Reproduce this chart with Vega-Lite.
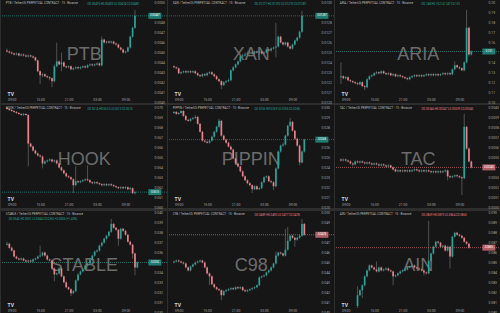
{
"$schema":"https://vega.github.io/schema/vega-lite/v6.json",
"padding":0,
"background":"#2e2e2e",
"config":{"view":{"fill":"#161616","stroke":null},"axis":{"domain":false,"ticks":false,"grid":false,"labelColor":"#a3a3a3","labelFontSize":3.4,"labelFont":"Roboto"},"axisX":{"labelPadding":0},"axisY":{"labelPadding":1},"title":{"anchor":"start","fontSize":3,"fontWeight":"normal","color":"#bdbdbd","offset":-5,"dx":5,"font":"Roboto"},"text":{"font":"Roboto"}},
"datasets":{
"PTB":[{"t":8,"o":0.00452,"h":0.00454,"l":0.00450,"c":0.00451},{"t":8.5,"o":0.00451,"h":0.00452,"l":0.00449,"c":0.00450},{"t":9,"o":0.00450,"h":0.00451,"l":0.00448,"c":0.00449},{"t":9.5,"o":0.00449,"h":0.00450,"l":0.00447,"c":0.00448},{"t":10,"o":0.00448,"h":0.00450,"l":0.00447,"c":0.00449},{"t":10.5,"o":0.00449,"h":0.00450,"l":0.00446,"c":0.00447},{"t":11,"o":0.00447,"h":0.00449,"l":0.00446,"c":0.00448},{"t":11.5,"o":0.00448,"h":0.00449,"l":0.00446,"c":0.00447},{"t":12,"o":0.00447,"h":0.00448,"l":0.00445,"c":0.00446},{"t":12.5,"o":0.00446,"h":0.00448,"l":0.00445,"c":0.00447},{"t":13,"o":0.00447,"h":0.00448,"l":0.00445,"c":0.00446},{"t":13.5,"o":0.00446,"h":0.00447,"l":0.00444,"c":0.00445},{"t":14,"o":0.00445,"h":0.00446,"l":0.00441,"c":0.00442},{"t":14.5,"o":0.00442,"h":0.00443,"l":0.00430,"c":0.00431},{"t":15,"o":0.00431,"h":0.00432,"l":0.00418,"c":0.00427},{"t":15.5,"o":0.00427,"h":0.00429,"l":0.00425,"c":0.00428},{"t":16,"o":0.00428,"h":0.00429,"l":0.00425,"c":0.00426},{"t":16.5,"o":0.00426,"h":0.00427,"l":0.00424,"c":0.00425},{"t":17,"o":0.00425,"h":0.00426,"l":0.00422,"c":0.00424},{"t":17.5,"o":0.00424,"h":0.00425,"l":0.00415,"c":0.00421},{"t":18,"o":0.00421,"h":0.00438,"l":0.00420,"c":0.00436},{"t":18.5,"o":0.00436,"h":0.00460,"l":0.00435,"c":0.00441},{"t":19,"o":0.00441,"h":0.00442,"l":0.00437,"c":0.00438},{"t":19.5,"o":0.00438,"h":0.00450,"l":0.00431,"c":0.00440},{"t":20,"o":0.00440,"h":0.00441,"l":0.00435,"c":0.00436},{"t":20.5,"o":0.00436,"h":0.00437,"l":0.00434,"c":0.00435},{"t":21,"o":0.00435,"h":0.00437,"l":0.00434,"c":0.00436},{"t":21.5,"o":0.00436,"h":0.00437,"l":0.00432,"c":0.00433},{"t":22,"o":0.00433,"h":0.00435,"l":0.00432,"c":0.00434},{"t":22.5,"o":0.00434,"h":0.00436,"l":0.00433,"c":0.00435},{"t":23,"o":0.00435,"h":0.00436,"l":0.00433,"c":0.00434},{"t":23.5,"o":0.00434,"h":0.00436,"l":0.00433,"c":0.00435},{"t":24,"o":0.00435,"h":0.00437,"l":0.00434,"c":0.00436},{"t":24.5,"o":0.00436,"h":0.00437,"l":0.00434,"c":0.00435},{"t":25,"o":0.00435,"h":0.00438,"l":0.00434,"c":0.00437},{"t":25.5,"o":0.00437,"h":0.00439,"l":0.00436,"c":0.00438},{"t":26,"o":0.00438,"h":0.00439,"l":0.00436,"c":0.00437},{"t":26.5,"o":0.00437,"h":0.00439,"l":0.00436,"c":0.00438},{"t":27,"o":0.00438,"h":0.00440,"l":0.00437,"c":0.00439},{"t":27.5,"o":0.00439,"h":0.00440,"l":0.00436,"c":0.00437},{"t":28,"o":0.00437,"h":0.00466,"l":0.00436,"c":0.00463},{"t":28.5,"o":0.00463,"h":0.00464,"l":0.00459,"c":0.00460},{"t":29,"o":0.00460,"h":0.00462,"l":0.00459,"c":0.00461},{"t":29.5,"o":0.00461,"h":0.00462,"l":0.00459,"c":0.00460},{"t":30,"o":0.00460,"h":0.00462,"l":0.00459,"c":0.00461},{"t":30.5,"o":0.00461,"h":0.00462,"l":0.00458,"c":0.00459},{"t":31,"o":0.00459,"h":0.00460,"l":0.00457,"c":0.00458},{"t":31.5,"o":0.00458,"h":0.00459,"l":0.00454,"c":0.00455},{"t":32,"o":0.00455,"h":0.00456,"l":0.00452,"c":0.00453},{"t":32.5,"o":0.00453,"h":0.00454,"l":0.00449,"c":0.00450},{"t":33,"o":0.00450,"h":0.00452,"l":0.00449,"c":0.00451},{"t":33.5,"o":0.00451,"h":0.00456,"l":0.00450,"c":0.00455},{"t":34,"o":0.00455,"h":0.00467,"l":0.00454,"c":0.00466},{"t":34.5,"o":0.00466,"h":0.00476,"l":0.00465,"c":0.00475},{"t":35,"o":0.00475,"h":0.00493,"l":0.00474,"c":0.00487}],
"XAN":[{"t":8,"o":0.01236,"h":0.01237,"l":0.01234,"c":0.01235},{"t":8.5,"o":0.01235,"h":0.01236,"l":0.01233,"c":0.01234},{"t":9,"o":0.01234,"h":0.01235,"l":0.01228,"c":0.01229},{"t":9.5,"o":0.01229,"h":0.01231,"l":0.01228,"c":0.01230},{"t":10,"o":0.01230,"h":0.01232,"l":0.01229,"c":0.01231},{"t":10.5,"o":0.01231,"h":0.01232,"l":0.01229,"c":0.01230},{"t":11,"o":0.01230,"h":0.01232,"l":0.01229,"c":0.01231},{"t":11.5,"o":0.01231,"h":0.01232,"l":0.01229,"c":0.01230},{"t":12,"o":0.01230,"h":0.01232,"l":0.01229,"c":0.01231},{"t":12.5,"o":0.01231,"h":0.01232,"l":0.01228,"c":0.01229},{"t":13,"o":0.01229,"h":0.01230,"l":0.01226,"c":0.01227},{"t":13.5,"o":0.01227,"h":0.01228,"l":0.01225,"c":0.01226},{"t":14,"o":0.01226,"h":0.01229,"l":0.01225,"c":0.01228},{"t":14.5,"o":0.01228,"h":0.01229,"l":0.01226,"c":0.01227},{"t":15,"o":0.01227,"h":0.01230,"l":0.01226,"c":0.01229},{"t":15.5,"o":0.01229,"h":0.01231,"l":0.01228,"c":0.01230},{"t":16,"o":0.01230,"h":0.01231,"l":0.01227,"c":0.01228},{"t":16.5,"o":0.01228,"h":0.01229,"l":0.01225,"c":0.01226},{"t":17,"o":0.01226,"h":0.01227,"l":0.01222,"c":0.01223},{"t":17.5,"o":0.01223,"h":0.01224,"l":0.01220,"c":0.01221},{"t":18,"o":0.01221,"h":0.01222,"l":0.01213,"c":0.01217},{"t":18.5,"o":0.01217,"h":0.01221,"l":0.01216,"c":0.01220},{"t":19,"o":0.01220,"h":0.01222,"l":0.01219,"c":0.01221},{"t":19.5,"o":0.01221,"h":0.01224,"l":0.01220,"c":0.01222},{"t":20,"o":0.01222,"h":0.01233,"l":0.01221,"c":0.01232},{"t":20.5,"o":0.01232,"h":0.01236,"l":0.01231,"c":0.01235},{"t":21,"o":0.01235,"h":0.01239,"l":0.01234,"c":0.01238},{"t":21.5,"o":0.01238,"h":0.01242,"l":0.01237,"c":0.01241},{"t":22,"o":0.01241,"h":0.01247,"l":0.01240,"c":0.01246},{"t":22.5,"o":0.01246,"h":0.01249,"l":0.01245,"c":0.01247},{"t":23,"o":0.01247,"h":0.01250,"l":0.01246,"c":0.01248},{"t":23.5,"o":0.01248,"h":0.01251,"l":0.01247,"c":0.01249},{"t":24,"o":0.01249,"h":0.01252,"l":0.01248,"c":0.01250},{"t":24.5,"o":0.01250,"h":0.01251,"l":0.01248,"c":0.01249},{"t":25,"o":0.01249,"h":0.01252,"l":0.01248,"c":0.01251},{"t":25.5,"o":0.01251,"h":0.01252,"l":0.01249,"c":0.01250},{"t":26,"o":0.01250,"h":0.01252,"l":0.01249,"c":0.01251},{"t":26.5,"o":0.01251,"h":0.01252,"l":0.01248,"c":0.01249},{"t":27,"o":0.01249,"h":0.01251,"l":0.01248,"c":0.01250},{"t":27.5,"o":0.01250,"h":0.01254,"l":0.01249,"c":0.01253},{"t":28,"o":0.01253,"h":0.01254,"l":0.01251,"c":0.01252},{"t":28.5,"o":0.01252,"h":0.01255,"l":0.01251,"c":0.01254},{"t":29,"o":0.01254,"h":0.01256,"l":0.01253,"c":0.01255},{"t":29.5,"o":0.01255,"h":0.01280,"l":0.01245,"c":0.01256},{"t":30,"o":0.01256,"h":0.01267,"l":0.01255,"c":0.01266},{"t":30.5,"o":0.01266,"h":0.01267,"l":0.01259,"c":0.01260},{"t":31,"o":0.01260,"h":0.01261,"l":0.01257,"c":0.01258},{"t":31.5,"o":0.01258,"h":0.01261,"l":0.01257,"c":0.01260},{"t":32,"o":0.01260,"h":0.01261,"l":0.01255,"c":0.01256},{"t":32.5,"o":0.01256,"h":0.01257,"l":0.01253,"c":0.01254},{"t":33,"o":0.01254,"h":0.01259,"l":0.01253,"c":0.01258},{"t":33.5,"o":0.01258,"h":0.01263,"l":0.01257,"c":0.01262},{"t":34,"o":0.01262,"h":0.01266,"l":0.01261,"c":0.01265},{"t":34.5,"o":0.01265,"h":0.01272,"l":0.01264,"c":0.01271},{"t":35,"o":0.01271,"h":0.01292,"l":0.01270,"c":0.01287}],
"ARIA":[{"t":8,"o":0.125,"h":0.140,"l":0.118,"c":0.126},{"t":8.5,"o":0.126,"h":0.127,"l":0.123,"c":0.124},{"t":9,"o":0.124,"h":0.126,"l":0.123,"c":0.125},{"t":9.5,"o":0.125,"h":0.126,"l":0.121,"c":0.122},{"t":10,"o":0.122,"h":0.123,"l":0.120,"c":0.121},{"t":10.5,"o":0.121,"h":0.122,"l":0.119,"c":0.120},{"t":11,"o":0.120,"h":0.121,"l":0.118,"c":0.119},{"t":11.5,"o":0.119,"h":0.120,"l":0.117,"c":0.118},{"t":12,"o":0.118,"h":0.121,"l":0.117,"c":0.120},{"t":12.5,"o":0.120,"h":0.121,"l":0.115,"c":0.116},{"t":13,"o":0.116,"h":0.117,"l":0.112,"c":0.115},{"t":13.5,"o":0.115,"h":0.124,"l":0.114,"c":0.123},{"t":14,"o":0.123,"h":0.127,"l":0.122,"c":0.126},{"t":14.5,"o":0.126,"h":0.128,"l":0.125,"c":0.127},{"t":15,"o":0.127,"h":0.130,"l":0.126,"c":0.129},{"t":15.5,"o":0.129,"h":0.131,"l":0.128,"c":0.130},{"t":16,"o":0.130,"h":0.131,"l":0.128,"c":0.129},{"t":16.5,"o":0.129,"h":0.132,"l":0.128,"c":0.131},{"t":17,"o":0.131,"h":0.132,"l":0.128,"c":0.129},{"t":17.5,"o":0.129,"h":0.130,"l":0.127,"c":0.128},{"t":18,"o":0.128,"h":0.130,"l":0.127,"c":0.129},{"t":18.5,"o":0.129,"h":0.130,"l":0.126,"c":0.127},{"t":19,"o":0.127,"h":0.129,"l":0.126,"c":0.128},{"t":19.5,"o":0.128,"h":0.129,"l":0.125,"c":0.126},{"t":20,"o":0.126,"h":0.128,"l":0.125,"c":0.127},{"t":20.5,"o":0.127,"h":0.128,"l":0.125,"c":0.126},{"t":21,"o":0.126,"h":0.127,"l":0.124,"c":0.125},{"t":21.5,"o":0.125,"h":0.126,"l":0.123,"c":0.124},{"t":22,"o":0.124,"h":0.125,"l":0.122,"c":0.123},{"t":22.5,"o":0.123,"h":0.126,"l":0.122,"c":0.125},{"t":23,"o":0.125,"h":0.127,"l":0.124,"c":0.126},{"t":23.5,"o":0.126,"h":0.128,"l":0.125,"c":0.127},{"t":24,"o":0.127,"h":0.128,"l":0.125,"c":0.126},{"t":24.5,"o":0.126,"h":0.128,"l":0.125,"c":0.127},{"t":25,"o":0.127,"h":0.128,"l":0.125,"c":0.126},{"t":25.5,"o":0.126,"h":0.128,"l":0.125,"c":0.127},{"t":26,"o":0.127,"h":0.129,"l":0.126,"c":0.128},{"t":26.5,"o":0.128,"h":0.129,"l":0.126,"c":0.127},{"t":27,"o":0.127,"h":0.129,"l":0.126,"c":0.128},{"t":27.5,"o":0.128,"h":0.129,"l":0.126,"c":0.127},{"t":28,"o":0.127,"h":0.129,"l":0.126,"c":0.128},{"t":28.5,"o":0.128,"h":0.129,"l":0.126,"c":0.127},{"t":29,"o":0.127,"h":0.129,"l":0.126,"c":0.128},{"t":29.5,"o":0.128,"h":0.130,"l":0.127,"c":0.129},{"t":30,"o":0.129,"h":0.130,"l":0.127,"c":0.128},{"t":30.5,"o":0.128,"h":0.130,"l":0.127,"c":0.129},{"t":31,"o":0.129,"h":0.130,"l":0.127,"c":0.128},{"t":31.5,"o":0.128,"h":0.134,"l":0.127,"c":0.133},{"t":32,"o":0.133,"h":0.141,"l":0.132,"c":0.137},{"t":32.5,"o":0.137,"h":0.138,"l":0.134,"c":0.135},{"t":33,"o":0.135,"h":0.136,"l":0.133,"c":0.134},{"t":33.5,"o":0.134,"h":0.135,"l":0.131,"c":0.132},{"t":34,"o":0.132,"h":0.141,"l":0.131,"c":0.140},{"t":34.5,"o":0.140,"h":0.193,"l":0.139,"c":0.175},{"t":35,"o":0.175,"h":0.176,"l":0.146,"c":0.148},{"t":35.5,"o":0.148,"h":0.152,"l":0.147,"c":0.151}],
"HOOK":[{"t":8,"o":0.0700,"h":0.0701,"l":0.0698,"c":0.0699},{"t":8.5,"o":0.0699,"h":0.0700,"l":0.0697,"c":0.0698},{"t":9,"o":0.0698,"h":0.0699,"l":0.0696,"c":0.0697},{"t":9.5,"o":0.0697,"h":0.0698,"l":0.0695,"c":0.0696},{"t":10,"o":0.0696,"h":0.0697,"l":0.0694,"c":0.0695},{"t":10.5,"o":0.0695,"h":0.0696,"l":0.0693,"c":0.0694},{"t":11,"o":0.0694,"h":0.0695,"l":0.0692,"c":0.0693},{"t":11.5,"o":0.0693,"h":0.0695,"l":0.0692,"c":0.0694},{"t":12,"o":0.0694,"h":0.0695,"l":0.0692,"c":0.0693},{"t":12.5,"o":0.0693,"h":0.0694,"l":0.0641,"c":0.0664},{"t":13,"o":0.0664,"h":0.0665,"l":0.0660,"c":0.0661},{"t":13.5,"o":0.0661,"h":0.0662,"l":0.0656,"c":0.0657},{"t":14,"o":0.0657,"h":0.0658,"l":0.0653,"c":0.0654},{"t":14.5,"o":0.0654,"h":0.0655,"l":0.0651,"c":0.0652},{"t":15,"o":0.0652,"h":0.0653,"l":0.0650,"c":0.0651},{"t":15.5,"o":0.0651,"h":0.0652,"l":0.0639,"c":0.0644},{"t":16,"o":0.0644,"h":0.0647,"l":0.0643,"c":0.0646},{"t":16.5,"o":0.0646,"h":0.0648,"l":0.0645,"c":0.0647},{"t":17,"o":0.0647,"h":0.0649,"l":0.0646,"c":0.0648},{"t":17.5,"o":0.0648,"h":0.0649,"l":0.0645,"c":0.0646},{"t":18,"o":0.0646,"h":0.0648,"l":0.0645,"c":0.0647},{"t":18.5,"o":0.0647,"h":0.0648,"l":0.0643,"c":0.0644},{"t":19,"o":0.0644,"h":0.0645,"l":0.0639,"c":0.0640},{"t":19.5,"o":0.0640,"h":0.0641,"l":0.0636,"c":0.0637},{"t":20,"o":0.0637,"h":0.0638,"l":0.0633,"c":0.0634},{"t":20.5,"o":0.0634,"h":0.0635,"l":0.0630,"c":0.0631},{"t":21,"o":0.0631,"h":0.0632,"l":0.0629,"c":0.0630},{"t":21.5,"o":0.0630,"h":0.0631,"l":0.0627,"c":0.0628},{"t":22,"o":0.0628,"h":0.0629,"l":0.0614,"c":0.0622},{"t":22.5,"o":0.0622,"h":0.0641,"l":0.0621,"c":0.0626},{"t":23,"o":0.0626,"h":0.0627,"l":0.0624,"c":0.0625},{"t":23.5,"o":0.0625,"h":0.0627,"l":0.0624,"c":0.0626},{"t":24,"o":0.0626,"h":0.0628,"l":0.0625,"c":0.0627},{"t":24.5,"o":0.0627,"h":0.0629,"l":0.0626,"c":0.0628},{"t":25,"o":0.0628,"h":0.0642,"l":0.0626,"c":0.0627},{"t":25.5,"o":0.0627,"h":0.0628,"l":0.0624,"c":0.0625},{"t":26,"o":0.0625,"h":0.0626,"l":0.0623,"c":0.0624},{"t":26.5,"o":0.0624,"h":0.0626,"l":0.0623,"c":0.0625},{"t":27,"o":0.0625,"h":0.0626,"l":0.0623,"c":0.0624},{"t":27.5,"o":0.0624,"h":0.0625,"l":0.0622,"c":0.0623},{"t":28,"o":0.0623,"h":0.0624,"l":0.0621,"c":0.0622},{"t":28.5,"o":0.0622,"h":0.0624,"l":0.0621,"c":0.0623},{"t":29,"o":0.0623,"h":0.0624,"l":0.0621,"c":0.0622},{"t":29.5,"o":0.0622,"h":0.0624,"l":0.0621,"c":0.0623},{"t":30,"o":0.0623,"h":0.0624,"l":0.0621,"c":0.0622},{"t":30.5,"o":0.0622,"h":0.0623,"l":0.0620,"c":0.0621},{"t":31,"o":0.0621,"h":0.0622,"l":0.0619,"c":0.0620},{"t":31.5,"o":0.0620,"h":0.0621,"l":0.0618,"c":0.0619},{"t":32,"o":0.0619,"h":0.0621,"l":0.0618,"c":0.0620},{"t":32.5,"o":0.0620,"h":0.0621,"l":0.0618,"c":0.0619},{"t":33,"o":0.0619,"h":0.0621,"l":0.0618,"c":0.0620},{"t":33.5,"o":0.0620,"h":0.0621,"l":0.0617,"c":0.0618},{"t":34,"o":0.0618,"h":0.0620,"l":0.0617,"c":0.0619},{"t":34.5,"o":0.0619,"h":0.0620,"l":0.0613,"c":0.0614},{"t":35,"o":0.0614,"h":0.0616,"l":0.0613,"c":0.0615}],
"PIPPIN":[{"t":8,"o":0.0295,"h":0.0297,"l":0.0294,"c":0.0296},{"t":8.5,"o":0.0296,"h":0.0297,"l":0.0293,"c":0.0294},{"t":9,"o":0.0294,"h":0.0296,"l":0.0293,"c":0.0295},{"t":9.5,"o":0.0295,"h":0.0298,"l":0.0294,"c":0.0297},{"t":10,"o":0.0297,"h":0.0298,"l":0.0291,"c":0.0292},{"t":10.5,"o":0.0292,"h":0.0293,"l":0.0287,"c":0.0288},{"t":11,"o":0.0288,"h":0.0289,"l":0.0286,"c":0.0287},{"t":11.5,"o":0.0287,"h":0.0290,"l":0.0286,"c":0.0289},{"t":12,"o":0.0289,"h":0.0291,"l":0.0288,"c":0.0290},{"t":12.5,"o":0.0290,"h":0.0293,"l":0.0289,"c":0.0291},{"t":13,"o":0.0291,"h":0.0292,"l":0.0283,"c":0.0284},{"t":13.5,"o":0.0284,"h":0.0285,"l":0.0275,"c":0.0276},{"t":14,"o":0.0276,"h":0.0277,"l":0.0266,"c":0.0267},{"t":14.5,"o":0.0267,"h":0.0268,"l":0.0265,"c":0.0266},{"t":15,"o":0.0266,"h":0.0267,"l":0.0264,"c":0.0265},{"t":15.5,"o":0.0265,"h":0.0268,"l":0.0264,"c":0.0267},{"t":16,"o":0.0267,"h":0.0272,"l":0.0266,"c":0.0271},{"t":16.5,"o":0.0271,"h":0.0277,"l":0.0270,"c":0.0276},{"t":17,"o":0.0276,"h":0.0282,"l":0.0275,"c":0.0281},{"t":17.5,"o":0.0281,"h":0.0289,"l":0.0280,"c":0.0287},{"t":18,"o":0.0287,"h":0.0288,"l":0.0271,"c":0.0272},{"t":18.5,"o":0.0272,"h":0.0273,"l":0.0267,"c":0.0268},{"t":19,"o":0.0268,"h":0.0269,"l":0.0264,"c":0.0265},{"t":19.5,"o":0.0265,"h":0.0266,"l":0.0260,"c":0.0261},{"t":20,"o":0.0261,"h":0.0262,"l":0.0257,"c":0.0258},{"t":20.5,"o":0.0258,"h":0.0259,"l":0.0248,"c":0.0249},{"t":21,"o":0.0249,"h":0.0250,"l":0.0243,"c":0.0244},{"t":21.5,"o":0.0244,"h":0.0245,"l":0.0240,"c":0.0241},{"t":22,"o":0.0241,"h":0.0242,"l":0.0235,"c":0.0236},{"t":22.5,"o":0.0236,"h":0.0237,"l":0.0230,"c":0.0231},{"t":23,"o":0.0231,"h":0.0232,"l":0.0226,"c":0.0227},{"t":23.5,"o":0.0227,"h":0.0228,"l":0.0223,"c":0.0224},{"t":24,"o":0.0224,"h":0.0225,"l":0.0221,"c":0.0222},{"t":24.5,"o":0.0222,"h":0.0223,"l":0.0214,"c":0.0218},{"t":25,"o":0.0218,"h":0.0222,"l":0.0217,"c":0.0221},{"t":25.5,"o":0.0221,"h":0.0222,"l":0.0217,"c":0.0218},{"t":26,"o":0.0218,"h":0.0220,"l":0.0217,"c":0.0219},{"t":26.5,"o":0.0219,"h":0.0226,"l":0.0218,"c":0.0225},{"t":27,"o":0.0225,"h":0.0231,"l":0.0224,"c":0.0230},{"t":27.5,"o":0.0230,"h":0.0232,"l":0.0229,"c":0.0231},{"t":28,"o":0.0231,"h":0.0232,"l":0.0225,"c":0.0226},{"t":28.5,"o":0.0226,"h":0.0227,"l":0.0224,"c":0.0225},{"t":29,"o":0.0225,"h":0.0226,"l":0.0217,"c":0.0221},{"t":29.5,"o":0.0221,"h":0.0240,"l":0.0220,"c":0.0239},{"t":30,"o":0.0239,"h":0.0257,"l":0.0238,"c":0.0256},{"t":30.5,"o":0.0256,"h":0.0263,"l":0.0255,"c":0.0262},{"t":31,"o":0.0262,"h":0.0265,"l":0.0261,"c":0.0263},{"t":31.5,"o":0.0263,"h":0.0273,"l":0.0262,"c":0.0272},{"t":32,"o":0.0272,"h":0.0283,"l":0.0271,"c":0.0282},{"t":32.5,"o":0.0282,"h":0.0290,"l":0.0281,"c":0.0286},{"t":33,"o":0.0286,"h":0.0287,"l":0.0276,"c":0.0277},{"t":33.5,"o":0.0277,"h":0.0278,"l":0.0268,"c":0.0269},{"t":34,"o":0.0269,"h":0.0270,"l":0.0261,"c":0.0262},{"t":34.5,"o":0.0262,"h":0.0263,"l":0.0242,"c":0.0245},{"t":35,"o":0.0245,"h":0.0257,"l":0.0244,"c":0.0256},{"t":35.5,"o":0.0256,"h":0.0269,"l":0.0255,"c":0.0268}],
"TAC":[{"t":8,"o":0.00348,"h":0.00349,"l":0.00346,"c":0.00347},{"t":8.5,"o":0.00347,"h":0.00349,"l":0.00346,"c":0.00348},{"t":9,"o":0.00348,"h":0.00349,"l":0.00346,"c":0.00347},{"t":9.5,"o":0.00347,"h":0.00348,"l":0.00345,"c":0.00346},{"t":10,"o":0.00346,"h":0.00347,"l":0.00343,"c":0.00344},{"t":10.5,"o":0.00344,"h":0.00345,"l":0.00341,"c":0.00343},{"t":11,"o":0.00343,"h":0.00347,"l":0.00342,"c":0.00346},{"t":11.5,"o":0.00346,"h":0.00347,"l":0.00344,"c":0.00345},{"t":12,"o":0.00345,"h":0.00347,"l":0.00344,"c":0.00346},{"t":12.5,"o":0.00346,"h":0.00347,"l":0.00344,"c":0.00345},{"t":13,"o":0.00345,"h":0.00346,"l":0.00343,"c":0.00344},{"t":13.5,"o":0.00344,"h":0.00346,"l":0.00343,"c":0.00345},{"t":14,"o":0.00345,"h":0.00346,"l":0.00343,"c":0.00344},{"t":14.5,"o":0.00344,"h":0.00345,"l":0.00342,"c":0.00343},{"t":15,"o":0.00343,"h":0.00345,"l":0.00342,"c":0.00344},{"t":15.5,"o":0.00344,"h":0.00345,"l":0.00342,"c":0.00343},{"t":16,"o":0.00343,"h":0.00344,"l":0.00341,"c":0.00342},{"t":16.5,"o":0.00342,"h":0.00344,"l":0.00341,"c":0.00343},{"t":17,"o":0.00343,"h":0.00344,"l":0.00341,"c":0.00342},{"t":17.5,"o":0.00342,"h":0.00343,"l":0.00340,"c":0.00341},{"t":18,"o":0.00341,"h":0.00343,"l":0.00340,"c":0.00342},{"t":18.5,"o":0.00342,"h":0.00343,"l":0.00339,"c":0.00340},{"t":19,"o":0.00340,"h":0.00341,"l":0.00337,"c":0.00338},{"t":19.5,"o":0.00338,"h":0.00339,"l":0.00335,"c":0.00336},{"t":20,"o":0.00336,"h":0.00338,"l":0.00335,"c":0.00337},{"t":20.5,"o":0.00337,"h":0.00338,"l":0.00335,"c":0.00336},{"t":21,"o":0.00336,"h":0.00338,"l":0.00335,"c":0.00337},{"t":21.5,"o":0.00337,"h":0.00338,"l":0.00335,"c":0.00336},{"t":22,"o":0.00336,"h":0.00338,"l":0.00335,"c":0.00337},{"t":22.5,"o":0.00337,"h":0.00338,"l":0.00335,"c":0.00336},{"t":23,"o":0.00336,"h":0.00338,"l":0.00335,"c":0.00337},{"t":23.5,"o":0.00337,"h":0.00339,"l":0.00336,"c":0.00338},{"t":24,"o":0.00338,"h":0.00339,"l":0.00336,"c":0.00337},{"t":24.5,"o":0.00337,"h":0.00338,"l":0.00335,"c":0.00336},{"t":25,"o":0.00336,"h":0.00338,"l":0.00335,"c":0.00337},{"t":25.5,"o":0.00337,"h":0.00338,"l":0.00335,"c":0.00336},{"t":26,"o":0.00336,"h":0.00338,"l":0.00335,"c":0.00337},{"t":26.5,"o":0.00337,"h":0.00338,"l":0.00335,"c":0.00336},{"t":27,"o":0.00336,"h":0.00337,"l":0.00334,"c":0.00335},{"t":27.5,"o":0.00335,"h":0.00337,"l":0.00334,"c":0.00336},{"t":28,"o":0.00336,"h":0.00337,"l":0.00334,"c":0.00335},{"t":28.5,"o":0.00335,"h":0.00337,"l":0.00334,"c":0.00336},{"t":29,"o":0.00336,"h":0.00337,"l":0.00334,"c":0.00335},{"t":29.5,"o":0.00335,"h":0.00337,"l":0.00334,"c":0.00336},{"t":30,"o":0.00336,"h":0.00338,"l":0.00335,"c":0.00337},{"t":30.5,"o":0.00337,"h":0.00338,"l":0.00327,"c":0.00331},{"t":31,"o":0.00331,"h":0.00332,"l":0.00329,"c":0.00330},{"t":31.5,"o":0.00330,"h":0.00332,"l":0.00329,"c":0.00331},{"t":32,"o":0.00331,"h":0.00333,"l":0.00330,"c":0.00332},{"t":32.5,"o":0.00332,"h":0.00333,"l":0.00330,"c":0.00331},{"t":33,"o":0.00331,"h":0.00332,"l":0.00329,"c":0.00330},{"t":33.5,"o":0.00330,"h":0.00331,"l":0.00312,"c":0.00329},{"t":34,"o":0.00329,"h":0.00394,"l":0.00328,"c":0.00381},{"t":34.5,"o":0.00381,"h":0.00382,"l":0.00358,"c":0.00359},{"t":35,"o":0.00359,"h":0.00360,"l":0.00345,"c":0.00346},{"t":35.5,"o":0.00346,"h":0.00347,"l":0.00339,"c":0.00340}],
"STABLE":[{"t":8,"o":0.0368,"h":0.0371,"l":0.0367,"c":0.0369},{"t":8.5,"o":0.0369,"h":0.0370,"l":0.0364,"c":0.0365},{"t":9,"o":0.0365,"h":0.0366,"l":0.0361,"c":0.0362},{"t":9.5,"o":0.0362,"h":0.0363,"l":0.0355,"c":0.0356},{"t":10,"o":0.0356,"h":0.0357,"l":0.0353,"c":0.0354},{"t":10.5,"o":0.0354,"h":0.0355,"l":0.0352,"c":0.0353},{"t":11,"o":0.0353,"h":0.0355,"l":0.0352,"c":0.0354},{"t":11.5,"o":0.0354,"h":0.0355,"l":0.0351,"c":0.0352},{"t":12,"o":0.0352,"h":0.0353,"l":0.0350,"c":0.0351},{"t":12.5,"o":0.0351,"h":0.0353,"l":0.0350,"c":0.0352},{"t":13,"o":0.0352,"h":0.0353,"l":0.0350,"c":0.0351},{"t":13.5,"o":0.0351,"h":0.0354,"l":0.0350,"c":0.0353},{"t":14,"o":0.0353,"h":0.0355,"l":0.0352,"c":0.0354},{"t":14.5,"o":0.0354,"h":0.0357,"l":0.0353,"c":0.0356},{"t":15,"o":0.0356,"h":0.0367,"l":0.0355,"c":0.0357},{"t":15.5,"o":0.0357,"h":0.0361,"l":0.0356,"c":0.0360},{"t":16,"o":0.0360,"h":0.0361,"l":0.0356,"c":0.0357},{"t":16.5,"o":0.0357,"h":0.0358,"l":0.0352,"c":0.0353},{"t":17,"o":0.0353,"h":0.0354,"l":0.0351,"c":0.0352},{"t":17.5,"o":0.0352,"h":0.0353,"l":0.0343,"c":0.0344},{"t":18,"o":0.0344,"h":0.0345,"l":0.0331,"c":0.0338},{"t":18.5,"o":0.0338,"h":0.0340,"l":0.0337,"c":0.0339},{"t":19,"o":0.0339,"h":0.0345,"l":0.0338,"c":0.0344},{"t":19.5,"o":0.0344,"h":0.0345,"l":0.0335,"c":0.0336},{"t":20,"o":0.0336,"h":0.0337,"l":0.0329,"c":0.0330},{"t":20.5,"o":0.0330,"h":0.0331,"l":0.0324,"c":0.0325},{"t":21,"o":0.0325,"h":0.0326,"l":0.0322,"c":0.0323},{"t":21.5,"o":0.0323,"h":0.0324,"l":0.0316,"c":0.0319},{"t":22,"o":0.0319,"h":0.0322,"l":0.0318,"c":0.0321},{"t":22.5,"o":0.0321,"h":0.0333,"l":0.0320,"c":0.0332},{"t":23,"o":0.0332,"h":0.0339,"l":0.0331,"c":0.0338},{"t":23.5,"o":0.0338,"h":0.0342,"l":0.0337,"c":0.0341},{"t":24,"o":0.0341,"h":0.0344,"l":0.0340,"c":0.0343},{"t":24.5,"o":0.0343,"h":0.0348,"l":0.0342,"c":0.0347},{"t":25,"o":0.0347,"h":0.0350,"l":0.0346,"c":0.0349},{"t":25.5,"o":0.0349,"h":0.0354,"l":0.0348,"c":0.0353},{"t":26,"o":0.0353,"h":0.0358,"l":0.0352,"c":0.0357},{"t":26.5,"o":0.0357,"h":0.0362,"l":0.0356,"c":0.0361},{"t":27,"o":0.0361,"h":0.0363,"l":0.0360,"c":0.0362},{"t":27.5,"o":0.0362,"h":0.0368,"l":0.0361,"c":0.0367},{"t":28,"o":0.0367,"h":0.0371,"l":0.0366,"c":0.0370},{"t":28.5,"o":0.0370,"h":0.0375,"l":0.0369,"c":0.0374},{"t":29,"o":0.0374,"h":0.0378,"l":0.0373,"c":0.0377},{"t":29.5,"o":0.0377,"h":0.0382,"l":0.0376,"c":0.0381},{"t":30,"o":0.0381,"h":0.0394,"l":0.0380,"c":0.0389},{"t":30.5,"o":0.0389,"h":0.0390,"l":0.0384,"c":0.0385},{"t":31,"o":0.0385,"h":0.0386,"l":0.0382,"c":0.0383},{"t":31.5,"o":0.0383,"h":0.0384,"l":0.0367,"c":0.0374},{"t":32,"o":0.0374,"h":0.0385,"l":0.0373,"c":0.0384},{"t":32.5,"o":0.0384,"h":0.0385,"l":0.0381,"c":0.0382},{"t":33,"o":0.0382,"h":0.0383,"l":0.0377,"c":0.0378},{"t":33.5,"o":0.0378,"h":0.0379,"l":0.0370,"c":0.0371},{"t":34,"o":0.0371,"h":0.0372,"l":0.0367,"c":0.0368},{"t":34.5,"o":0.0368,"h":0.0369,"l":0.0354,"c":0.0359},{"t":35,"o":0.0359,"h":0.0360,"l":0.0337,"c":0.0345},{"t":35.5,"o":0.0345,"h":0.0351,"l":0.0344,"c":0.0350}],
"C98":[{"t":8,"o":0.0450,"h":0.0452,"l":0.0449,"c":0.0451},{"t":8.5,"o":0.0451,"h":0.0453,"l":0.0450,"c":0.0452},{"t":9,"o":0.0452,"h":0.0453,"l":0.0450,"c":0.0451},{"t":9.5,"o":0.0451,"h":0.0452,"l":0.0449,"c":0.0450},{"t":10,"o":0.0450,"h":0.0451,"l":0.0448,"c":0.0449},{"t":10.5,"o":0.0449,"h":0.0450,"l":0.0444,"c":0.0445},{"t":11,"o":0.0445,"h":0.0446,"l":0.0441,"c":0.0442},{"t":11.5,"o":0.0442,"h":0.0447,"l":0.0441,"c":0.0446},{"t":12,"o":0.0446,"h":0.0449,"l":0.0445,"c":0.0448},{"t":12.5,"o":0.0448,"h":0.0451,"l":0.0447,"c":0.0450},{"t":13,"o":0.0450,"h":0.0452,"l":0.0449,"c":0.0451},{"t":13.5,"o":0.0451,"h":0.0453,"l":0.0450,"c":0.0452},{"t":14,"o":0.0452,"h":0.0453,"l":0.0449,"c":0.0450},{"t":14.5,"o":0.0450,"h":0.0451,"l":0.0444,"c":0.0445},{"t":15,"o":0.0445,"h":0.0446,"l":0.0438,"c":0.0439},{"t":15.5,"o":0.0439,"h":0.0440,"l":0.0427,"c":0.0436},{"t":16,"o":0.0436,"h":0.0437,"l":0.0427,"c":0.0428},{"t":16.5,"o":0.0428,"h":0.0429,"l":0.0424,"c":0.0425},{"t":17,"o":0.0425,"h":0.0426,"l":0.0422,"c":0.0423},{"t":17.5,"o":0.0423,"h":0.0424,"l":0.0421,"c":0.0422},{"t":18,"o":0.0422,"h":0.0423,"l":0.0412,"c":0.0417},{"t":18.5,"o":0.0417,"h":0.0422,"l":0.0416,"c":0.0421},{"t":19,"o":0.0421,"h":0.0423,"l":0.0420,"c":0.0422},{"t":19.5,"o":0.0422,"h":0.0424,"l":0.0421,"c":0.0423},{"t":20,"o":0.0423,"h":0.0425,"l":0.0422,"c":0.0424},{"t":20.5,"o":0.0424,"h":0.0425,"l":0.0422,"c":0.0423},{"t":21,"o":0.0423,"h":0.0426,"l":0.0422,"c":0.0425},{"t":21.5,"o":0.0425,"h":0.0426,"l":0.0423,"c":0.0424},{"t":22,"o":0.0424,"h":0.0426,"l":0.0423,"c":0.0425},{"t":22.5,"o":0.0425,"h":0.0426,"l":0.0421,"c":0.0422},{"t":23,"o":0.0422,"h":0.0423,"l":0.0420,"c":0.0421},{"t":23.5,"o":0.0421,"h":0.0423,"l":0.0420,"c":0.0422},{"t":24,"o":0.0422,"h":0.0424,"l":0.0421,"c":0.0423},{"t":24.5,"o":0.0423,"h":0.0425,"l":0.0422,"c":0.0424},{"t":25,"o":0.0424,"h":0.0426,"l":0.0423,"c":0.0425},{"t":25.5,"o":0.0425,"h":0.0428,"l":0.0424,"c":0.0427},{"t":26,"o":0.0427,"h":0.0436,"l":0.0426,"c":0.0435},{"t":26.5,"o":0.0435,"h":0.0437,"l":0.0434,"c":0.0436},{"t":27,"o":0.0436,"h":0.0438,"l":0.0435,"c":0.0437},{"t":27.5,"o":0.0437,"h":0.0441,"l":0.0436,"c":0.0440},{"t":28,"o":0.0440,"h":0.0443,"l":0.0439,"c":0.0442},{"t":28.5,"o":0.0442,"h":0.0446,"l":0.0441,"c":0.0445},{"t":29,"o":0.0445,"h":0.0450,"l":0.0444,"c":0.0449},{"t":29.5,"o":0.0449,"h":0.0461,"l":0.0448,"c":0.0457},{"t":30,"o":0.0457,"h":0.0461,"l":0.0456,"c":0.0460},{"t":30.5,"o":0.0460,"h":0.0461,"l":0.0458,"c":0.0459},{"t":31,"o":0.0459,"h":0.0460,"l":0.0456,"c":0.0457},{"t":31.5,"o":0.0457,"h":0.0484,"l":0.0456,"c":0.0463},{"t":32,"o":0.0463,"h":0.0486,"l":0.0462,"c":0.0472},{"t":32.5,"o":0.0472,"h":0.0478,"l":0.0471,"c":0.0477},{"t":33,"o":0.0477,"h":0.0478,"l":0.0474,"c":0.0475},{"t":33.5,"o":0.0475,"h":0.0476,"l":0.0466,"c":0.0473},{"t":34,"o":0.0473,"h":0.0476,"l":0.0472,"c":0.0475},{"t":34.5,"o":0.0475,"h":0.0478,"l":0.0474,"c":0.0477},{"t":35,"o":0.0477,"h":0.0494,"l":0.0476,"c":0.0489},{"t":35.5,"o":0.0489,"h":0.0490,"l":0.0477,"c":0.0478}],
"AIN":[{"t":11.5,"o":0.0806,"h":0.0826,"l":0.0804,"c":0.0817},{"t":12,"o":0.0817,"h":0.0823,"l":0.0816,"c":0.0822},{"t":12.5,"o":0.0822,"h":0.0828,"l":0.0814,"c":0.0827},{"t":13,"o":0.0827,"h":0.0837,"l":0.0826,"c":0.0836},{"t":13.5,"o":0.0836,"h":0.0843,"l":0.0835,"c":0.0842},{"t":14,"o":0.0842,"h":0.0848,"l":0.0841,"c":0.0847},{"t":14.5,"o":0.0847,"h":0.0848,"l":0.0844,"c":0.0845},{"t":15,"o":0.0845,"h":0.0846,"l":0.0842,"c":0.0843},{"t":15.5,"o":0.0843,"h":0.0851,"l":0.0840,"c":0.0841},{"t":16,"o":0.0841,"h":0.0846,"l":0.0840,"c":0.0845},{"t":16.5,"o":0.0845,"h":0.0846,"l":0.0841,"c":0.0842},{"t":17,"o":0.0842,"h":0.0844,"l":0.0841,"c":0.0843},{"t":17.5,"o":0.0843,"h":0.0845,"l":0.0842,"c":0.0844},{"t":18,"o":0.0844,"h":0.0845,"l":0.0841,"c":0.0842},{"t":18.5,"o":0.0842,"h":0.0843,"l":0.0840,"c":0.0841},{"t":19,"o":0.0841,"h":0.0842,"l":0.0827,"c":0.0836},{"t":19.5,"o":0.0836,"h":0.0838,"l":0.0835,"c":0.0837},{"t":20,"o":0.0837,"h":0.0840,"l":0.0836,"c":0.0839},{"t":20.5,"o":0.0839,"h":0.0842,"l":0.0838,"c":0.0841},{"t":21,"o":0.0841,"h":0.0843,"l":0.0840,"c":0.0842},{"t":21.5,"o":0.0842,"h":0.0844,"l":0.0841,"c":0.0843},{"t":22,"o":0.0843,"h":0.0846,"l":0.0842,"c":0.0845},{"t":22.5,"o":0.0845,"h":0.0847,"l":0.0844,"c":0.0846},{"t":23,"o":0.0846,"h":0.0848,"l":0.0845,"c":0.0847},{"t":23.5,"o":0.0847,"h":0.0848,"l":0.0844,"c":0.0845},{"t":24,"o":0.0845,"h":0.0846,"l":0.0843,"c":0.0844},{"t":24.5,"o":0.0844,"h":0.0845,"l":0.0842,"c":0.0843},{"t":25,"o":0.0843,"h":0.0844,"l":0.0841,"c":0.0842},{"t":25.5,"o":0.0842,"h":0.0843,"l":0.0837,"c":0.0840},{"t":26,"o":0.0840,"h":0.0841,"l":0.0838,"c":0.0839},{"t":26.5,"o":0.0839,"h":0.0892,"l":0.0838,"c":0.0852},{"t":27,"o":0.0852,"h":0.0860,"l":0.0851,"c":0.0859},{"t":27.5,"o":0.0859,"h":0.0867,"l":0.0858,"c":0.0866},{"t":28,"o":0.0866,"h":0.0872,"l":0.0865,"c":0.0871},{"t":28.5,"o":0.0871,"h":0.0872,"l":0.0869,"c":0.0870},{"t":29,"o":0.0870,"h":0.0871,"l":0.0865,"c":0.0866},{"t":29.5,"o":0.0866,"h":0.0868,"l":0.0865,"c":0.0867},{"t":30,"o":0.0867,"h":0.0868,"l":0.0861,"c":0.0862},{"t":30.5,"o":0.0862,"h":0.0867,"l":0.0861,"c":0.0866},{"t":31,"o":0.0866,"h":0.0867,"l":0.0844,"c":0.0856},{"t":31.5,"o":0.0856,"h":0.0877,"l":0.0855,"c":0.0876},{"t":32,"o":0.0876,"h":0.0881,"l":0.0875,"c":0.0880},{"t":32.5,"o":0.0880,"h":0.0881,"l":0.0877,"c":0.0878},{"t":33,"o":0.0878,"h":0.0879,"l":0.0876,"c":0.0877},{"t":33.5,"o":0.0877,"h":0.0878,"l":0.0874,"c":0.0875},{"t":34,"o":0.0875,"h":0.0876,"l":0.0870,"c":0.0871},{"t":34.5,"o":0.0871,"h":0.0872,"l":0.0868,"c":0.0869},{"t":35,"o":0.0869,"h":0.0870,"l":0.0864,"c":0.0865}]
},
"vconcat":[
{"hconcat":[
{"width":166,"height":103,"title":"PTB / TetherUS PERPETUAL CONTRACT · 15 · Binance","data":{"name":"PTB"},"layer":[
{"data":{"values":[{"s":"PTB"}]},"mark":{"type":"text","fontSize":18,"font":"Liberation Sans","color":"#6c6c6c"},"encoding":{"text":{"field":"s"},"x":{"datum":24.3},"y":{"datum":0.00447}}},
{"data":{"values":[{"s":"O0.00475 H0.00493 L0.00474 C0.00487"}]},"mark":{"type":"text","fontSize":2.9,"align":"left","color":"#26a69a"},"encoding":{"text":{"field":"s"},"x":{"datum":25},"y":{"datum":0.004995}}},
{"data":{"values":[{"s":"TV"}]},"mark":{"type":"text","fontSize":5,"fontWeight":"bold","color":"#d8d8d8"},"encoding":{"text":{"field":"s"},"x":{"datum":8.8},"y":{"datum":0.00408}}},
{"transform":[{"joinaggregate":[{"op":"max","field":"t","as":"m"}]},{"filter":"datum.t==datum.m"}],"mark":{"type":"rule","strokeDash":[1,1],"strokeWidth":0.6},"encoding":{"y":{"field":"c","type":"quantitative"},"color":{"condition":{"test":"datum.c>=datum.o","value":"#26a69a"},"value":"#ef7f88"}}},
{"mark":{"type":"rule","color":"#7a7a7a","strokeWidth":0.6},"encoding":{"x":{"field":"t","type":"quantitative","scale":{"domain":[7.8,40.7],"nice":false,"zero":false},"axis":{"orient":"bottom","offset":-6,"values":[9,12,15,18,21,24,27,30,33,36],"labelExpr":"datum.value==24?'19':(datum.value%24<10?'0':'')+datum.value%24+':00'","title":null}},"y":{"field":"l","type":"quantitative","scale":{"domain":[0.00399,0.00503],"nice":false,"zero":false},"axis":{"orient":"right","offset":-14,"tickCount":10,"labelExpr":"abs(datum.value-0.00487)<0.00005?'':datum.label","title":null}},"y2":{"field":"h"}}},
{"mark":{"type":"bar","width":1.7},"encoding":{"x":{"field":"t","type":"quantitative"},"y":{"field":"o","type":"quantitative"},"y2":{"field":"c"},"color":{"condition":{"test":"datum.c>=datum.o","value":"#26a69a"},"value":"#ef7f88"}}},
{"transform":[{"joinaggregate":[{"op":"max","field":"t","as":"m"}]},{"filter":"datum.t==datum.m"}],"mark":{"type":"tick","orient":"horizontal","size":13,"thickness":6},"encoding":{"x":{"datum":39.2},"y":{"field":"c","type":"quantitative"},"color":{"condition":{"test":"datum.c>=datum.o","value":"#26a69a"},"value":"#ef7f88"}}},
{"transform":[{"joinaggregate":[{"op":"max","field":"t","as":"m"}]},{"filter":"datum.t==datum.m"}],"mark":{"type":"text","fontSize":2.6,"color":"#ffffff"},"encoding":{"x":{"datum":39.2},"y":{"field":"c","type":"quantitative"},"text":{"field":"c","format":".5f"}}}
]},
{"width":166,"height":103,"title":"XAN / TetherUS PERPETUAL CONTRACT · 15 · Binance","data":{"name":"XAN"},"layer":[
{"data":{"values":[{"s":"XAN"}]},"mark":{"type":"text","fontSize":18,"font":"Liberation Sans","color":"#6c6c6c"},"encoding":{"text":{"field":"s"},"x":{"datum":24.3},"y":{"datum":0.01247}}},
{"data":{"values":[{"s":"O0.01271 H0.01292 L0.01270 C0.01287"}]},"mark":{"type":"text","fontSize":2.9,"align":"left","color":"#26a69a"},"encoding":{"text":{"field":"s"},"x":{"datum":25},"y":{"datum":0.012995}}},
{"data":{"values":[{"s":"TV"}]},"mark":{"type":"text","fontSize":5,"fontWeight":"bold","color":"#d8d8d8"},"encoding":{"text":{"field":"s"},"x":{"datum":8.8},"y":{"datum":0.01208}}},
{"transform":[{"joinaggregate":[{"op":"max","field":"t","as":"m"}]},{"filter":"datum.t==datum.m"}],"mark":{"type":"rule","strokeDash":[1,1],"strokeWidth":0.6},"encoding":{"y":{"field":"c","type":"quantitative"},"color":{"condition":{"test":"datum.c>=datum.o","value":"#26a69a"},"value":"#ef7f88"}}},
{"mark":{"type":"rule","color":"#7a7a7a","strokeWidth":0.6},"encoding":{"x":{"field":"t","type":"quantitative","scale":{"domain":[7.8,40.7],"nice":false,"zero":false},"axis":{"orient":"bottom","offset":-6,"values":[9,12,15,18,21,24,27,30,33,36],"labelExpr":"datum.value==24?'19':(datum.value%24<10?'0':'')+datum.value%24+':00'","title":null}},"y":{"field":"l","type":"quantitative","scale":{"domain":[0.01199,0.01303],"nice":false,"zero":false},"axis":{"orient":"right","offset":-14,"tickCount":10,"labelExpr":"abs(datum.value-0.01287)<0.00005?'':datum.label","title":null}},"y2":{"field":"h"}}},
{"mark":{"type":"bar","width":1.7},"encoding":{"x":{"field":"t","type":"quantitative"},"y":{"field":"o","type":"quantitative"},"y2":{"field":"c"},"color":{"condition":{"test":"datum.c>=datum.o","value":"#26a69a"},"value":"#ef7f88"}}},
{"transform":[{"joinaggregate":[{"op":"max","field":"t","as":"m"}]},{"filter":"datum.t==datum.m"}],"mark":{"type":"tick","orient":"horizontal","size":13,"thickness":6},"encoding":{"x":{"datum":39.2},"y":{"field":"c","type":"quantitative"},"color":{"condition":{"test":"datum.c>=datum.o","value":"#26a69a"},"value":"#ef7f88"}}},
{"transform":[{"joinaggregate":[{"op":"max","field":"t","as":"m"}]},{"filter":"datum.t==datum.m"}],"mark":{"type":"text","fontSize":2.6,"color":"#ffffff"},"encoding":{"x":{"datum":39.2},"y":{"field":"c","type":"quantitative"},"text":{"field":"c","format":".5f"}}}
]},
{"width":166,"height":103,"title":"ARIA / TetherUS PERPETUAL CONTRACT · 15 · Binance","data":{"name":"ARIA"},"layer":[
{"data":{"values":[{"s":"ARIA"}]},"mark":{"type":"text","fontSize":18,"font":"Liberation Sans","color":"#6c6c6c"},"encoding":{"text":{"field":"s"},"x":{"datum":24.3},"y":{"datum":0.147}}},
{"data":{"values":[{"s":"O0.148 H0.152 L0.147 C0.151"}]},"mark":{"type":"text","fontSize":2.9,"align":"left","color":"#26a69a"},"encoding":{"text":{"field":"s"},"x":{"datum":25},"y":{"datum":0.1995}}},
{"data":{"values":[{"s":"TV"}]},"mark":{"type":"text","fontSize":5,"fontWeight":"bold","color":"#d8d8d8"},"encoding":{"text":{"field":"s"},"x":{"datum":8.8},"y":{"datum":0.108}}},
{"transform":[{"joinaggregate":[{"op":"max","field":"t","as":"m"}]},{"filter":"datum.t==datum.m"}],"mark":{"type":"rule","strokeDash":[1,1],"strokeWidth":0.6},"encoding":{"y":{"field":"c","type":"quantitative"},"color":{"condition":{"test":"datum.c>=datum.o","value":"#26a69a"},"value":"#ef7f88"}}},
{"mark":{"type":"rule","color":"#7a7a7a","strokeWidth":0.6},"encoding":{"x":{"field":"t","type":"quantitative","scale":{"domain":[7.8,40.7],"nice":false,"zero":false},"axis":{"orient":"bottom","offset":-6,"values":[9,12,15,18,21,24,27,30,33,36],"labelExpr":"datum.value==24?'19':(datum.value%24<10?'0':'')+datum.value%24+':00'","title":null}},"y":{"field":"l","type":"quantitative","scale":{"domain":[0.099,0.203],"nice":false,"zero":false},"axis":{"orient":"right","offset":-14,"tickCount":10,"labelExpr":"abs(datum.value-0.151)<0.005?'':datum.label","title":null}},"y2":{"field":"h"}}},
{"mark":{"type":"bar","width":1.7},"encoding":{"x":{"field":"t","type":"quantitative"},"y":{"field":"o","type":"quantitative"},"y2":{"field":"c"},"color":{"condition":{"test":"datum.c>=datum.o","value":"#26a69a"},"value":"#ef7f88"}}},
{"transform":[{"joinaggregate":[{"op":"max","field":"t","as":"m"}]},{"filter":"datum.t==datum.m"}],"mark":{"type":"tick","orient":"horizontal","size":13,"thickness":6},"encoding":{"x":{"datum":39.2},"y":{"field":"c","type":"quantitative"},"color":{"condition":{"test":"datum.c>=datum.o","value":"#26a69a"},"value":"#ef7f88"}}},
{"transform":[{"joinaggregate":[{"op":"max","field":"t","as":"m"}]},{"filter":"datum.t==datum.m"}],"mark":{"type":"text","fontSize":2.6,"color":"#ffffff"},"encoding":{"x":{"datum":39.2},"y":{"field":"c","type":"quantitative"},"text":{"field":"c","format":".3f"}}}
]}
],"spacing":1,"bounds":"flush"},
{"hconcat":[
{"width":166,"height":103,"title":"HOOK / TetherUS PERPETUAL CONTRACT · 15 · Binance","data":{"name":"HOOK"},"layer":[
{"data":{"values":[{"s":"HOOK"}]},"mark":{"type":"text","fontSize":18,"font":"Liberation Sans","color":"#6c6c6c"},"encoding":{"text":{"field":"s"},"x":{"datum":24.3},"y":{"datum":0.0647}}},
{"data":{"values":[{"s":"O0.0614 H0.0616 L0.0613 C0.0615"}]},"mark":{"type":"text","fontSize":2.9,"align":"left","color":"#26a69a"},"encoding":{"text":{"field":"s"},"x":{"datum":25},"y":{"datum":0.06995}}},
{"data":{"values":[{"s":"TV"}]},"mark":{"type":"text","fontSize":5,"fontWeight":"bold","color":"#d8d8d8"},"encoding":{"text":{"field":"s"},"x":{"datum":8.8},"y":{"datum":0.0608}}},
{"transform":[{"joinaggregate":[{"op":"max","field":"t","as":"m"}]},{"filter":"datum.t==datum.m"}],"mark":{"type":"rule","strokeDash":[1,1],"strokeWidth":0.6},"encoding":{"y":{"field":"c","type":"quantitative"},"color":{"condition":{"test":"datum.c>=datum.o","value":"#26a69a"},"value":"#ef7f88"}}},
{"mark":{"type":"rule","color":"#7a7a7a","strokeWidth":0.6},"encoding":{"x":{"field":"t","type":"quantitative","scale":{"domain":[7.8,40.7],"nice":false,"zero":false},"axis":{"orient":"bottom","offset":-6,"values":[9,12,15,18,21,24,27,30,33,36],"labelExpr":"datum.value==24?'19':(datum.value%24<10?'0':'')+datum.value%24+':00'","title":null}},"y":{"field":"l","type":"quantitative","scale":{"domain":[0.0599,0.0703],"nice":false,"zero":false},"axis":{"orient":"right","offset":-14,"tickCount":10,"labelExpr":"abs(datum.value-0.0615)<0.0005?'':datum.label","title":null}},"y2":{"field":"h"}}},
{"mark":{"type":"bar","width":1.7},"encoding":{"x":{"field":"t","type":"quantitative"},"y":{"field":"o","type":"quantitative"},"y2":{"field":"c"},"color":{"condition":{"test":"datum.c>=datum.o","value":"#26a69a"},"value":"#ef7f88"}}},
{"transform":[{"joinaggregate":[{"op":"max","field":"t","as":"m"}]},{"filter":"datum.t==datum.m"}],"mark":{"type":"tick","orient":"horizontal","size":13,"thickness":6},"encoding":{"x":{"datum":39.2},"y":{"field":"c","type":"quantitative"},"color":{"condition":{"test":"datum.c>=datum.o","value":"#26a69a"},"value":"#ef7f88"}}},
{"transform":[{"joinaggregate":[{"op":"max","field":"t","as":"m"}]},{"filter":"datum.t==datum.m"}],"mark":{"type":"text","fontSize":2.6,"color":"#ffffff"},"encoding":{"x":{"datum":39.2},"y":{"field":"c","type":"quantitative"},"text":{"field":"c","format":".4f"}}}
]},
{"width":166,"height":103,"title":"PIPPIN / TetherUS PERPETUAL CONTRACT · 15 · Binance","data":{"name":"PIPPIN"},"layer":[
{"data":{"values":[{"s":"PIPPIN"}]},"mark":{"type":"text","fontSize":18,"font":"Liberation Sans","color":"#6c6c6c"},"encoding":{"text":{"field":"s"},"x":{"datum":24.3},"y":{"datum":0.0247}}},
{"data":{"values":[{"s":"O0.0256 H0.0269 L0.0255 C0.0268"}]},"mark":{"type":"text","fontSize":2.9,"align":"left","color":"#26a69a"},"encoding":{"text":{"field":"s"},"x":{"datum":25},"y":{"datum":0.02995}}},
{"data":{"values":[{"s":"TV"}]},"mark":{"type":"text","fontSize":5,"fontWeight":"bold","color":"#d8d8d8"},"encoding":{"text":{"field":"s"},"x":{"datum":8.8},"y":{"datum":0.0208}}},
{"transform":[{"joinaggregate":[{"op":"max","field":"t","as":"m"}]},{"filter":"datum.t==datum.m"}],"mark":{"type":"rule","strokeDash":[1,1],"strokeWidth":0.6},"encoding":{"y":{"field":"c","type":"quantitative"},"color":{"condition":{"test":"datum.c>=datum.o","value":"#26a69a"},"value":"#ef7f88"}}},
{"mark":{"type":"rule","color":"#7a7a7a","strokeWidth":0.6},"encoding":{"x":{"field":"t","type":"quantitative","scale":{"domain":[7.8,40.7],"nice":false,"zero":false},"axis":{"orient":"bottom","offset":-6,"values":[9,12,15,18,21,24,27,30,33,36],"labelExpr":"datum.value==24?'19':(datum.value%24<10?'0':'')+datum.value%24+':00'","title":null}},"y":{"field":"l","type":"quantitative","scale":{"domain":[0.0199,0.0303],"nice":false,"zero":false},"axis":{"orient":"right","offset":-14,"tickCount":10,"labelExpr":"abs(datum.value-0.0268)<0.0005?'':datum.label","title":null}},"y2":{"field":"h"}}},
{"mark":{"type":"bar","width":1.7},"encoding":{"x":{"field":"t","type":"quantitative"},"y":{"field":"o","type":"quantitative"},"y2":{"field":"c"},"color":{"condition":{"test":"datum.c>=datum.o","value":"#26a69a"},"value":"#ef7f88"}}},
{"transform":[{"joinaggregate":[{"op":"max","field":"t","as":"m"}]},{"filter":"datum.t==datum.m"}],"mark":{"type":"tick","orient":"horizontal","size":13,"thickness":6},"encoding":{"x":{"datum":39.2},"y":{"field":"c","type":"quantitative"},"color":{"condition":{"test":"datum.c>=datum.o","value":"#26a69a"},"value":"#ef7f88"}}},
{"transform":[{"joinaggregate":[{"op":"max","field":"t","as":"m"}]},{"filter":"datum.t==datum.m"}],"mark":{"type":"text","fontSize":2.6,"color":"#ffffff"},"encoding":{"x":{"datum":39.2},"y":{"field":"c","type":"quantitative"},"text":{"field":"c","format":".4f"}}}
]},
{"width":166,"height":103,"title":"TAC / TetherUS PERPETUAL CONTRACT · 15 · Binance","data":{"name":"TAC"},"layer":[
{"data":{"values":[{"s":"TAC"}]},"mark":{"type":"text","fontSize":18,"font":"Liberation Sans","color":"#6c6c6c"},"encoding":{"text":{"field":"s"},"x":{"datum":24.3},"y":{"datum":0.00347}}},
{"data":{"values":[{"s":"O0.00346 H0.00347 L0.00339 C0.00340"}]},"mark":{"type":"text","fontSize":2.9,"align":"left","color":"#ef7f88"},"encoding":{"text":{"field":"s"},"x":{"datum":25},"y":{"datum":0.003995}}},
{"data":{"values":[{"s":"TV"}]},"mark":{"type":"text","fontSize":5,"fontWeight":"bold","color":"#d8d8d8"},"encoding":{"text":{"field":"s"},"x":{"datum":8.8},"y":{"datum":0.00308}}},
{"transform":[{"joinaggregate":[{"op":"max","field":"t","as":"m"}]},{"filter":"datum.t==datum.m"}],"mark":{"type":"rule","strokeDash":[1,1],"strokeWidth":0.6},"encoding":{"y":{"field":"c","type":"quantitative"},"color":{"condition":{"test":"datum.c>=datum.o","value":"#26a69a"},"value":"#ef7f88"}}},
{"mark":{"type":"rule","color":"#7a7a7a","strokeWidth":0.6},"encoding":{"x":{"field":"t","type":"quantitative","scale":{"domain":[7.8,40.7],"nice":false,"zero":false},"axis":{"orient":"bottom","offset":-6,"values":[9,12,15,18,21,24,27,30,33,36],"labelExpr":"datum.value==24?'19':(datum.value%24<10?'0':'')+datum.value%24+':00'","title":null}},"y":{"field":"l","type":"quantitative","scale":{"domain":[0.00299,0.00403],"nice":false,"zero":false},"axis":{"orient":"right","offset":-14,"tickCount":10,"labelExpr":"abs(datum.value-0.0034)<0.00005?'':datum.label","title":null}},"y2":{"field":"h"}}},
{"mark":{"type":"bar","width":1.7},"encoding":{"x":{"field":"t","type":"quantitative"},"y":{"field":"o","type":"quantitative"},"y2":{"field":"c"},"color":{"condition":{"test":"datum.c>=datum.o","value":"#26a69a"},"value":"#ef7f88"}}},
{"transform":[{"joinaggregate":[{"op":"max","field":"t","as":"m"}]},{"filter":"datum.t==datum.m"}],"mark":{"type":"tick","orient":"horizontal","size":13,"thickness":6},"encoding":{"x":{"datum":39.2},"y":{"field":"c","type":"quantitative"},"color":{"condition":{"test":"datum.c>=datum.o","value":"#26a69a"},"value":"#ef7f88"}}},
{"transform":[{"joinaggregate":[{"op":"max","field":"t","as":"m"}]},{"filter":"datum.t==datum.m"}],"mark":{"type":"text","fontSize":2.6,"color":"#ffffff"},"encoding":{"x":{"datum":39.2},"y":{"field":"c","type":"quantitative"},"text":{"field":"c","format":".5f"}}}
]}
],"spacing":1,"bounds":"flush"},
{"hconcat":[
{"width":166,"height":103,"title":"STABLE / TetherUS PERPETUAL CONTRACT · 15 · Binance","data":{"name":"STABLE"},"layer":[
{"data":{"values":[{"s":"STABLE"}]},"mark":{"type":"text","fontSize":18,"font":"Liberation Sans","color":"#6c6c6c"},"encoding":{"text":{"field":"s"},"x":{"datum":24.3},"y":{"datum":0.0346}}},
{"data":{"values":[{"s":"O0.0345 H0.0351 L0.0344 C0.0350 +0.0005 (+1.45%)"}]},"mark":{"type":"text","fontSize":2.9,"align":"left","color":"#26a69a"},"encoding":{"text":{"field":"s"},"x":{"datum":8.4},"y":{"datum":0.03945}}},
{"data":{"values":[{"s":"TV"}]},"mark":{"type":"text","fontSize":5,"fontWeight":"bold","color":"#d8d8d8"},"encoding":{"text":{"field":"s"},"x":{"datum":8.8},"y":{"datum":0.0307}}},
{"transform":[{"joinaggregate":[{"op":"max","field":"t","as":"m"}]},{"filter":"datum.t==datum.m"}],"mark":{"type":"rule","strokeDash":[1,1],"strokeWidth":0.6},"encoding":{"y":{"field":"c","type":"quantitative"},"color":{"condition":{"test":"datum.c>=datum.o","value":"#26a69a"},"value":"#ef7f88"}}},
{"mark":{"type":"rule","color":"#7a7a7a","strokeWidth":0.6},"encoding":{"x":{"field":"t","type":"quantitative","scale":{"domain":[7.8,40.7],"nice":false,"zero":false},"axis":{"orient":"bottom","offset":-6,"values":[9,12,15,18,21,24,27,30,33,36],"labelExpr":"datum.value==24?'19':(datum.value%24<10?'0':'')+datum.value%24+':00'","title":null}},"y":{"field":"l","type":"quantitative","scale":{"domain":[0.0298,0.0402],"nice":false,"zero":false},"axis":{"orient":"right","offset":-14,"tickCount":10,"labelExpr":"abs(datum.value-0.035)<0.0005?'':datum.label","title":null}},"y2":{"field":"h"}}},
{"mark":{"type":"bar","width":1.7},"encoding":{"x":{"field":"t","type":"quantitative"},"y":{"field":"o","type":"quantitative"},"y2":{"field":"c"},"color":{"condition":{"test":"datum.c>=datum.o","value":"#26a69a"},"value":"#ef7f88"}}},
{"transform":[{"joinaggregate":[{"op":"max","field":"t","as":"m"}]},{"filter":"datum.t==datum.m"}],"mark":{"type":"tick","orient":"horizontal","size":13,"thickness":6},"encoding":{"x":{"datum":39.2},"y":{"field":"c","type":"quantitative"},"color":{"condition":{"test":"datum.c>=datum.o","value":"#26a69a"},"value":"#ef7f88"}}},
{"transform":[{"joinaggregate":[{"op":"max","field":"t","as":"m"}]},{"filter":"datum.t==datum.m"}],"mark":{"type":"text","fontSize":2.6,"color":"#ffffff"},"encoding":{"x":{"datum":39.2},"y":{"field":"c","type":"quantitative"},"text":{"field":"c","format":".4f"}}}
]},
{"width":166,"height":103,"title":"C98 / TetherUS PERPETUAL CONTRACT · 15 · Binance","data":{"name":"C98"},"layer":[
{"data":{"values":[{"s":"C98"}]},"mark":{"type":"text","fontSize":18,"font":"Liberation Sans","color":"#6c6c6c"},"encoding":{"text":{"field":"s"},"x":{"datum":24.3},"y":{"datum":0.0446}}},
{"data":{"values":[{"s":"O0.0489 H0.0490 L0.0477 C0.0478"}]},"mark":{"type":"text","fontSize":2.9,"align":"left","color":"#ef7f88"},"encoding":{"text":{"field":"s"},"x":{"datum":25},"y":{"datum":0.04985}}},
{"data":{"values":[{"s":"TV"}]},"mark":{"type":"text","fontSize":5,"fontWeight":"bold","color":"#d8d8d8"},"encoding":{"text":{"field":"s"},"x":{"datum":8.8},"y":{"datum":0.0407}}},
{"transform":[{"joinaggregate":[{"op":"max","field":"t","as":"m"}]},{"filter":"datum.t==datum.m"}],"mark":{"type":"rule","strokeDash":[1,1],"strokeWidth":0.6},"encoding":{"y":{"field":"c","type":"quantitative"},"color":{"condition":{"test":"datum.c>=datum.o","value":"#26a69a"},"value":"#ef7f88"}}},
{"mark":{"type":"rule","color":"#7a7a7a","strokeWidth":0.6},"encoding":{"x":{"field":"t","type":"quantitative","scale":{"domain":[7.8,40.7],"nice":false,"zero":false},"axis":{"orient":"bottom","offset":-6,"values":[9,12,15,18,21,24,27,30,33,36],"labelExpr":"datum.value==24?'19':(datum.value%24<10?'0':'')+datum.value%24+':00'","title":null}},"y":{"field":"l","type":"quantitative","scale":{"domain":[0.0398,0.0502],"nice":false,"zero":false},"axis":{"orient":"right","offset":-14,"tickCount":10,"labelExpr":"abs(datum.value-0.0478)<0.0005?'':datum.label","title":null}},"y2":{"field":"h"}}},
{"mark":{"type":"bar","width":1.7},"encoding":{"x":{"field":"t","type":"quantitative"},"y":{"field":"o","type":"quantitative"},"y2":{"field":"c"},"color":{"condition":{"test":"datum.c>=datum.o","value":"#26a69a"},"value":"#ef7f88"}}},
{"transform":[{"joinaggregate":[{"op":"max","field":"t","as":"m"}]},{"filter":"datum.t==datum.m"}],"mark":{"type":"tick","orient":"horizontal","size":13,"thickness":6},"encoding":{"x":{"datum":39.2},"y":{"field":"c","type":"quantitative"},"color":{"condition":{"test":"datum.c>=datum.o","value":"#26a69a"},"value":"#ef7f88"}}},
{"transform":[{"joinaggregate":[{"op":"max","field":"t","as":"m"}]},{"filter":"datum.t==datum.m"}],"mark":{"type":"text","fontSize":2.6,"color":"#ffffff"},"encoding":{"x":{"datum":39.2},"y":{"field":"c","type":"quantitative"},"text":{"field":"c","format":".4f"}}}
]},
{"width":166,"height":103,"title":"AIN / TetherUS PERPETUAL CONTRACT · 15 · Binance","data":{"name":"AIN"},"layer":[
{"data":{"values":[{"s":"AIN"}]},"mark":{"type":"text","fontSize":18,"font":"Liberation Sans","color":"#6c6c6c"},"encoding":{"text":{"field":"s"},"x":{"datum":24.3},"y":{"datum":0.0846}}},
{"data":{"values":[{"s":"O0.0869 H0.0870 L0.0864 C0.0865"}]},"mark":{"type":"text","fontSize":2.9,"align":"left","color":"#ef7f88"},"encoding":{"text":{"field":"s"},"x":{"datum":25},"y":{"datum":0.08985}}},
{"data":{"values":[{"s":"TV"}]},"mark":{"type":"text","fontSize":5,"fontWeight":"bold","color":"#d8d8d8"},"encoding":{"text":{"field":"s"},"x":{"datum":8.8},"y":{"datum":0.0807}}},
{"transform":[{"joinaggregate":[{"op":"max","field":"t","as":"m"}]},{"filter":"datum.t==datum.m"}],"mark":{"type":"rule","strokeDash":[1,1],"strokeWidth":0.6},"encoding":{"y":{"field":"c","type":"quantitative"},"color":{"condition":{"test":"datum.c>=datum.o","value":"#26a69a"},"value":"#ef7f88"}}},
{"mark":{"type":"rule","color":"#7a7a7a","strokeWidth":0.6},"encoding":{"x":{"field":"t","type":"quantitative","scale":{"domain":[7.8,40.7],"nice":false,"zero":false},"axis":{"orient":"bottom","offset":-6,"values":[9,12,15,18,21,24,27,30,33,36],"labelExpr":"datum.value==24?'19':(datum.value%24<10?'0':'')+datum.value%24+':00'","title":null}},"y":{"field":"l","type":"quantitative","scale":{"domain":[0.0798,0.0902],"nice":false,"zero":false},"axis":{"orient":"right","offset":-14,"tickCount":10,"labelExpr":"abs(datum.value-0.0865)<0.0005?'':datum.label","title":null}},"y2":{"field":"h"}}},
{"mark":{"type":"bar","width":1.7},"encoding":{"x":{"field":"t","type":"quantitative"},"y":{"field":"o","type":"quantitative"},"y2":{"field":"c"},"color":{"condition":{"test":"datum.c>=datum.o","value":"#26a69a"},"value":"#ef7f88"}}},
{"transform":[{"joinaggregate":[{"op":"max","field":"t","as":"m"}]},{"filter":"datum.t==datum.m"}],"mark":{"type":"tick","orient":"horizontal","size":13,"thickness":6},"encoding":{"x":{"datum":39.2},"y":{"field":"c","type":"quantitative"},"color":{"condition":{"test":"datum.c>=datum.o","value":"#26a69a"},"value":"#ef7f88"}}},
{"transform":[{"joinaggregate":[{"op":"max","field":"t","as":"m"}]},{"filter":"datum.t==datum.m"}],"mark":{"type":"text","fontSize":2.6,"color":"#ffffff"},"encoding":{"x":{"datum":39.2},"y":{"field":"c","type":"quantitative"},"text":{"field":"c","format":".4f"}}}
]}
],"spacing":1,"bounds":"flush"}
],"spacing":1
}
